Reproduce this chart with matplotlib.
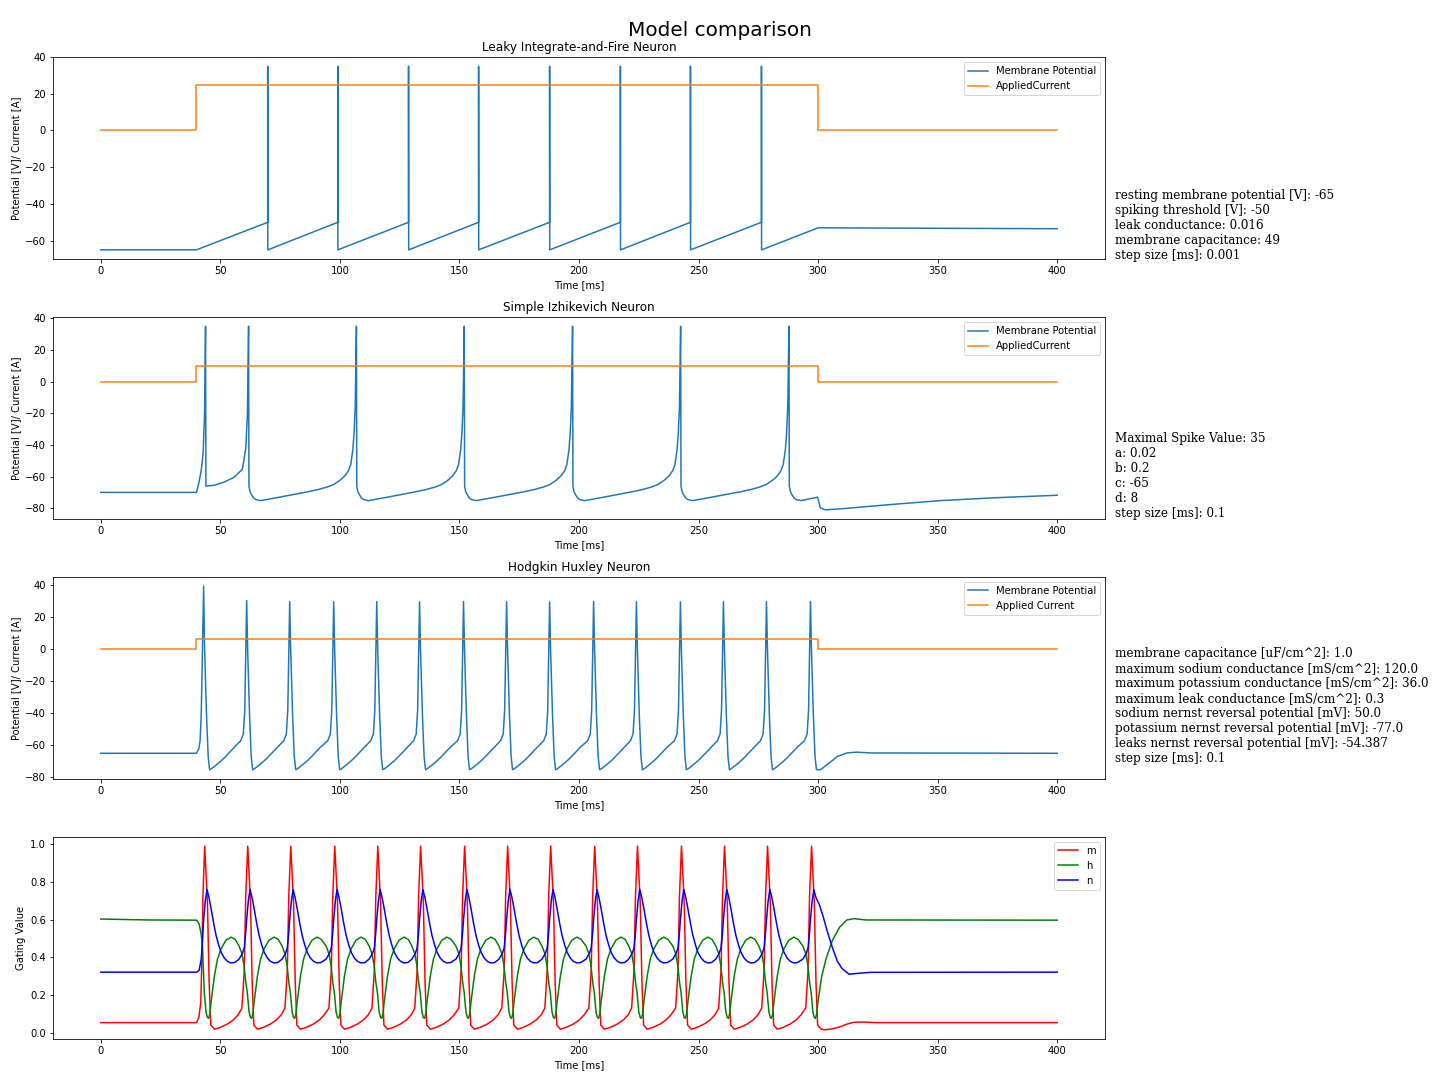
import numpy as np
import matplotlib
matplotlib.use('Agg')
import matplotlib.pyplot as plt

# stimulus window [ms]
stim_on = 40.0
stim_off = 300.0
t_end = 400.0

# ---- Leaky integrate-and-fire ----
lif_current = 25.0
lif_rest = -65.0
lif_thresh = -50.0
lif_peak = 35.0
lif_spikes = [69.8, 99.1, 128.7, 158.0, 187.7, 217.3, 246.6, 276.3]
lif_tail_t = [300.0, 400.0]
lif_tail_v = [-53.0, -53.5]

# ---- Izhikevich ----
izh_current = 10.0
izh_head_t = [0, 40.0, 41.0, 42.0, 42.8, 43.4, 43.8, 43.95, 47.4, 51.5, 55.7, 59.2, 60.6, 61.3]
izh_head_v = [-70, -70, -64, -56, -45, -20, 35, -66, -65.5, -63.5, -60.5, -55.4, -42.5, -21.6]
izh_spikes = [61.8, 106.9, 152.0, 197.3, 242.5, 287.8]
# shape of one cycle, time relative to spike peak
izh_dt = [-20.0, -16.0, -12.0, -9.5, -7.0, -5.0, -3.4, -2.4, -1.5, -1.0, -0.5, 0.0,
          0.15, 0.6, 1.2, 2.0, 3.0, 5.0, 13.0]
izh_val = [-69.5, -68.2, -66.5, -65.0, -62.5, -59.8, -56.5, -52.5, -43.0, -33.0, -16.0, 35.0,
           -66.0, -69.5, -71.3, -73.3, -74.5, -75.2, -73.0]
izh_tail_t = [299.8, 300.9, 303.0, 309.3, 330.0, 351.0, 375.0, 400.0]
izh_tail_v = [-73.0, -79.8, -81.0, -80.4, -77.7, -75.2, -73.3, -71.8]

# ---- Hodgkin Huxley ----
hh_current = 6.5
hh_spikes = [43.0, 61.0, 79.0, 97.4, 115.4, 133.3, 151.7, 169.7, 187.7, 206.1,
             224.0, 242.4, 260.4, 278.4, 296.8]
hh_peak_v = [39.2, 30.2, 29.6, 29.5, 29.6, 29.4, 29.6, 29.5, 29.4, 29.6,
             29.5, 29.4, 29.5, 29.5, 29.6]
hh_head_t = [0, 40.0, 41.0, 41.5, 42.0, 42.5]
hh_head_v = [-65, -65, -62.0, -57.5, -41.0, 0.0]
hh_dt = [-2.5, -1.4, -0.8, -0.35, 0.0, 0.4, 1.2, 1.9, 2.5, 3.1, 4.6, 6.0, 7.4, 8.8, 10.2, 11.6, 13.0]
hh_val = [-57.2, -53.0, -38.0, 0.0, 30.0, 0.0, -40.8, -67.0, -75.2, -74.8, -73.1, -71.4,
          -69.6, -67.6, -65.4, -63.2, -61.0]
hh_tail_t = [301.0, 303.5, 306.0, 308.0, 312.0, 316.0, 322.0, 400.0]
hh_tail_v = [-75.3, -72.3, -69.5, -67.0, -64.8, -64.3, -64.8, -65.0]

# gating variables
m_head_t = [0, 40.0, 41.0, 41.8, 42.3, 42.7]
m_head_v = [0.053, 0.053, 0.08, 0.16, 0.40, 0.72]
m_dt = [-2.0, -1.0, -0.4, 0.45, 1.6, 2.3, 3.0, 4.5, 7.0, 10.0, 12.5, 14.5]
m_val = [0.13, 0.33, 0.72, 0.99, 0.69, 0.27, 0.04, 0.018, 0.028, 0.046, 0.068, 0.095]
m_tail_t = [303.0, 306.0, 309.0, 312.0, 315.0, 319.0, 324.0, 400.0]
m_tail_v = [0.015, 0.02, 0.03, 0.045, 0.055, 0.056, 0.053, 0.053]

h_head_t = [0, 20.0, 40.0, 41.1, 42.0, 42.5]
h_head_v = [0.603, 0.598, 0.597, 0.578, 0.52, 0.46]
h_dt = [-3.2, -2.0, -1.1, -0.4, 0.3, 1.0, 1.6, 2.1, 2.6, 3.1, 4.5, 5.8, 7.3, 9.3, 11.4, 13.2]
h_val = [0.46, 0.42, 0.356, 0.27, 0.21, 0.11, 0.08, 0.076, 0.10, 0.16, 0.30, 0.39,
         0.445, 0.49, 0.507, 0.495]
h_tail_t = [301.5, 303.5, 306.0, 309.0, 312.0, 315.0, 320.0, 400.0]
h_tail_v = [0.30, 0.40, 0.49, 0.56, 0.598, 0.605, 0.598, 0.597]

n_head_t = [0, 40.0, 41.1, 42.0, 42.5]
n_head_v = [0.321, 0.321, 0.33, 0.39, 0.48]
n_dt = [-3.2, -1.8, -1.0, -0.4, 0.0, 0.7, 1.4, 2.2, 3.1, 4.2, 5.2, 6.3, 7.3, 8.7, 10.0, 11.4, 13.0]
n_val = [0.39, 0.42, 0.45, 0.53, 0.60, 0.70, 0.76, 0.72, 0.66, 0.58, 0.516, 0.465,
         0.427, 0.395, 0.378, 0.37, 0.372]
n_tail_t = [300.5, 302.0, 304.0, 306.0, 308.0, 310.0, 313.0, 317.0, 322.0, 400.0]
n_tail_v = [0.68, 0.62, 0.53, 0.45, 0.38, 0.34, 0.31, 0.315, 0.32, 0.321]

lif_text = ('resting membrane potential [V]: -65\nspiking threshold [V]: -50\n'
            'leak conductance: 0.016\nmembrane capacitance: 49\nstep size [ms]: 0.001')
izh_text = 'Maximal Spike Value: 35\na: 0.02\nb: 0.2\nc: -65\nd: 8\nstep size [ms]: 0.1'
hh_text = ('membrane capacitance [uF/cm^2]: 1.0\n'
           'maximum sodium conductance [mS/cm^2]: 120.0\n'
           'maximum potassium conductance [mS/cm^2]: 36.0\n'
           'maximum leak conductance [mS/cm^2]: 0.3\n'
           'sodium nernst reversal potential [mV]: 50.0\n'
           'potassium nernst reversal potential [mV]: -77.0\n'
           'leaks nernst reversal potential [mV]: -54.387\n'
           'step size [ms]: 0.1')


def trace(head_t, head_v, spikes, dt, val, tail_t, tail_v, last_cut, peaks=None):
    # stitch head, one cycle per spike and tail together
    t = list(head_t)
    v = list(head_v)
    for k, tp in enumerate(spikes):
        for d, y in zip(dt, val):
            if k == 0 and d < 0:
                continue
            if k == len(spikes) - 1 and d > last_cut:
                continue
            if peaks is not None and d == 0:
                y = peaks[k]
            t.append(tp + d)
            v.append(y)
    t += tail_t
    v += tail_v
    return np.array(t), np.array(v)


def current(amp):
    return [0, stim_on, stim_on, stim_off, stim_off, t_end], [0, 0, amp, amp, 0, 0]


# LIF membrane
lt = [0, stim_on]
lv = [lif_rest, lif_rest]
for tp in lif_spikes:
    lt += [tp, tp, tp + 0.05]
    lv += [lif_thresh, lif_peak, lif_rest]
lt += lif_tail_t
lv += lif_tail_v

it, iv = trace(izh_head_t, izh_head_v, izh_spikes, izh_dt, izh_val, izh_tail_t, izh_tail_v, 5.0)
ht, hv = trace(hh_head_t, hh_head_v, hh_spikes, hh_dt, hh_val, hh_tail_t, hh_tail_v, 2.5, hh_peak_v)
mt, mv = trace(m_head_t, m_head_v, hh_spikes, m_dt, m_val, m_tail_t, m_tail_v, 4.5)
gt, gv = trace(h_head_t, h_head_v, hh_spikes, h_dt, h_val, h_tail_t, h_tail_v, 3.1)
nt, nv = trace(n_head_t, n_head_v, hh_spikes, n_dt, n_val, n_tail_t, n_tail_v, 2.2)

fig = plt.figure(figsize=(20, 15), dpi=72)
fig.suptitle('Model comparison', fontsize=20, y=0.972, va='center')

ax1 = plt.subplot(4, 1, 1)
ax1.plot(lt, lv, label='Membrane Potential')
ct, cv = current(lif_current)
ax1.plot(ct, cv, label='AppliedCurrent')
ax1.set_title('Leaky Integrate-and-Fire Neuron')
ax1.set_xlabel('Time [ms]')
ax1.set_ylabel('Potential [V]/ Current [A]')
ax1.legend(loc='upper right')
ax1.text(424, -70, lif_text, family='serif', fontsize=12, va='baseline')

ax2 = plt.subplot(4, 1, 2)
ax2.plot(it, iv, label='Membrane Potential')
ct, cv = current(izh_current)
ax2.plot(ct, cv, label='AppliedCurrent')
ax2.set_title('Simple Izhikevich Neuron')
ax2.set_xlabel('Time [ms]')
ax2.set_ylabel('Potential [V]/ Current [A]')
ax2.legend(loc='upper right')
ax2.text(424, -85.5, izh_text, family='serif', fontsize=12, va='baseline')

ax3 = plt.subplot(4, 1, 3)
ax3.plot(ht, hv, label='Membrane Potential')
ct, cv = current(hh_current)
ax3.plot(ct, cv, label='Applied Current')
ax3.set_title('Hodgkin Huxley Neuron')
ax3.set_xlabel('Time [ms]')
ax3.set_ylabel('Potential [V]/ Current [A]')
ax3.legend(loc='upper right')
ax3.text(424, -70.5, hh_text, family='serif', fontsize=12, va='baseline')

ax4 = plt.subplot(4, 1, 4)
ax4.plot(mt, mv, 'r', label='m')
ax4.plot(gt, gv, 'g', label='h')
ax4.plot(nt, nv, 'b', label='n')
ax4.set_xlabel('Time [ms]')
ax4.set_ylabel('Gating Value')
ax4.legend(loc='upper right')

plt.subplots_adjust(left=0.0368, right=0.7674, top=0.9472, bottom=0.038, hspace=0.287)
plt.savefig('out.png', dpi=72)
